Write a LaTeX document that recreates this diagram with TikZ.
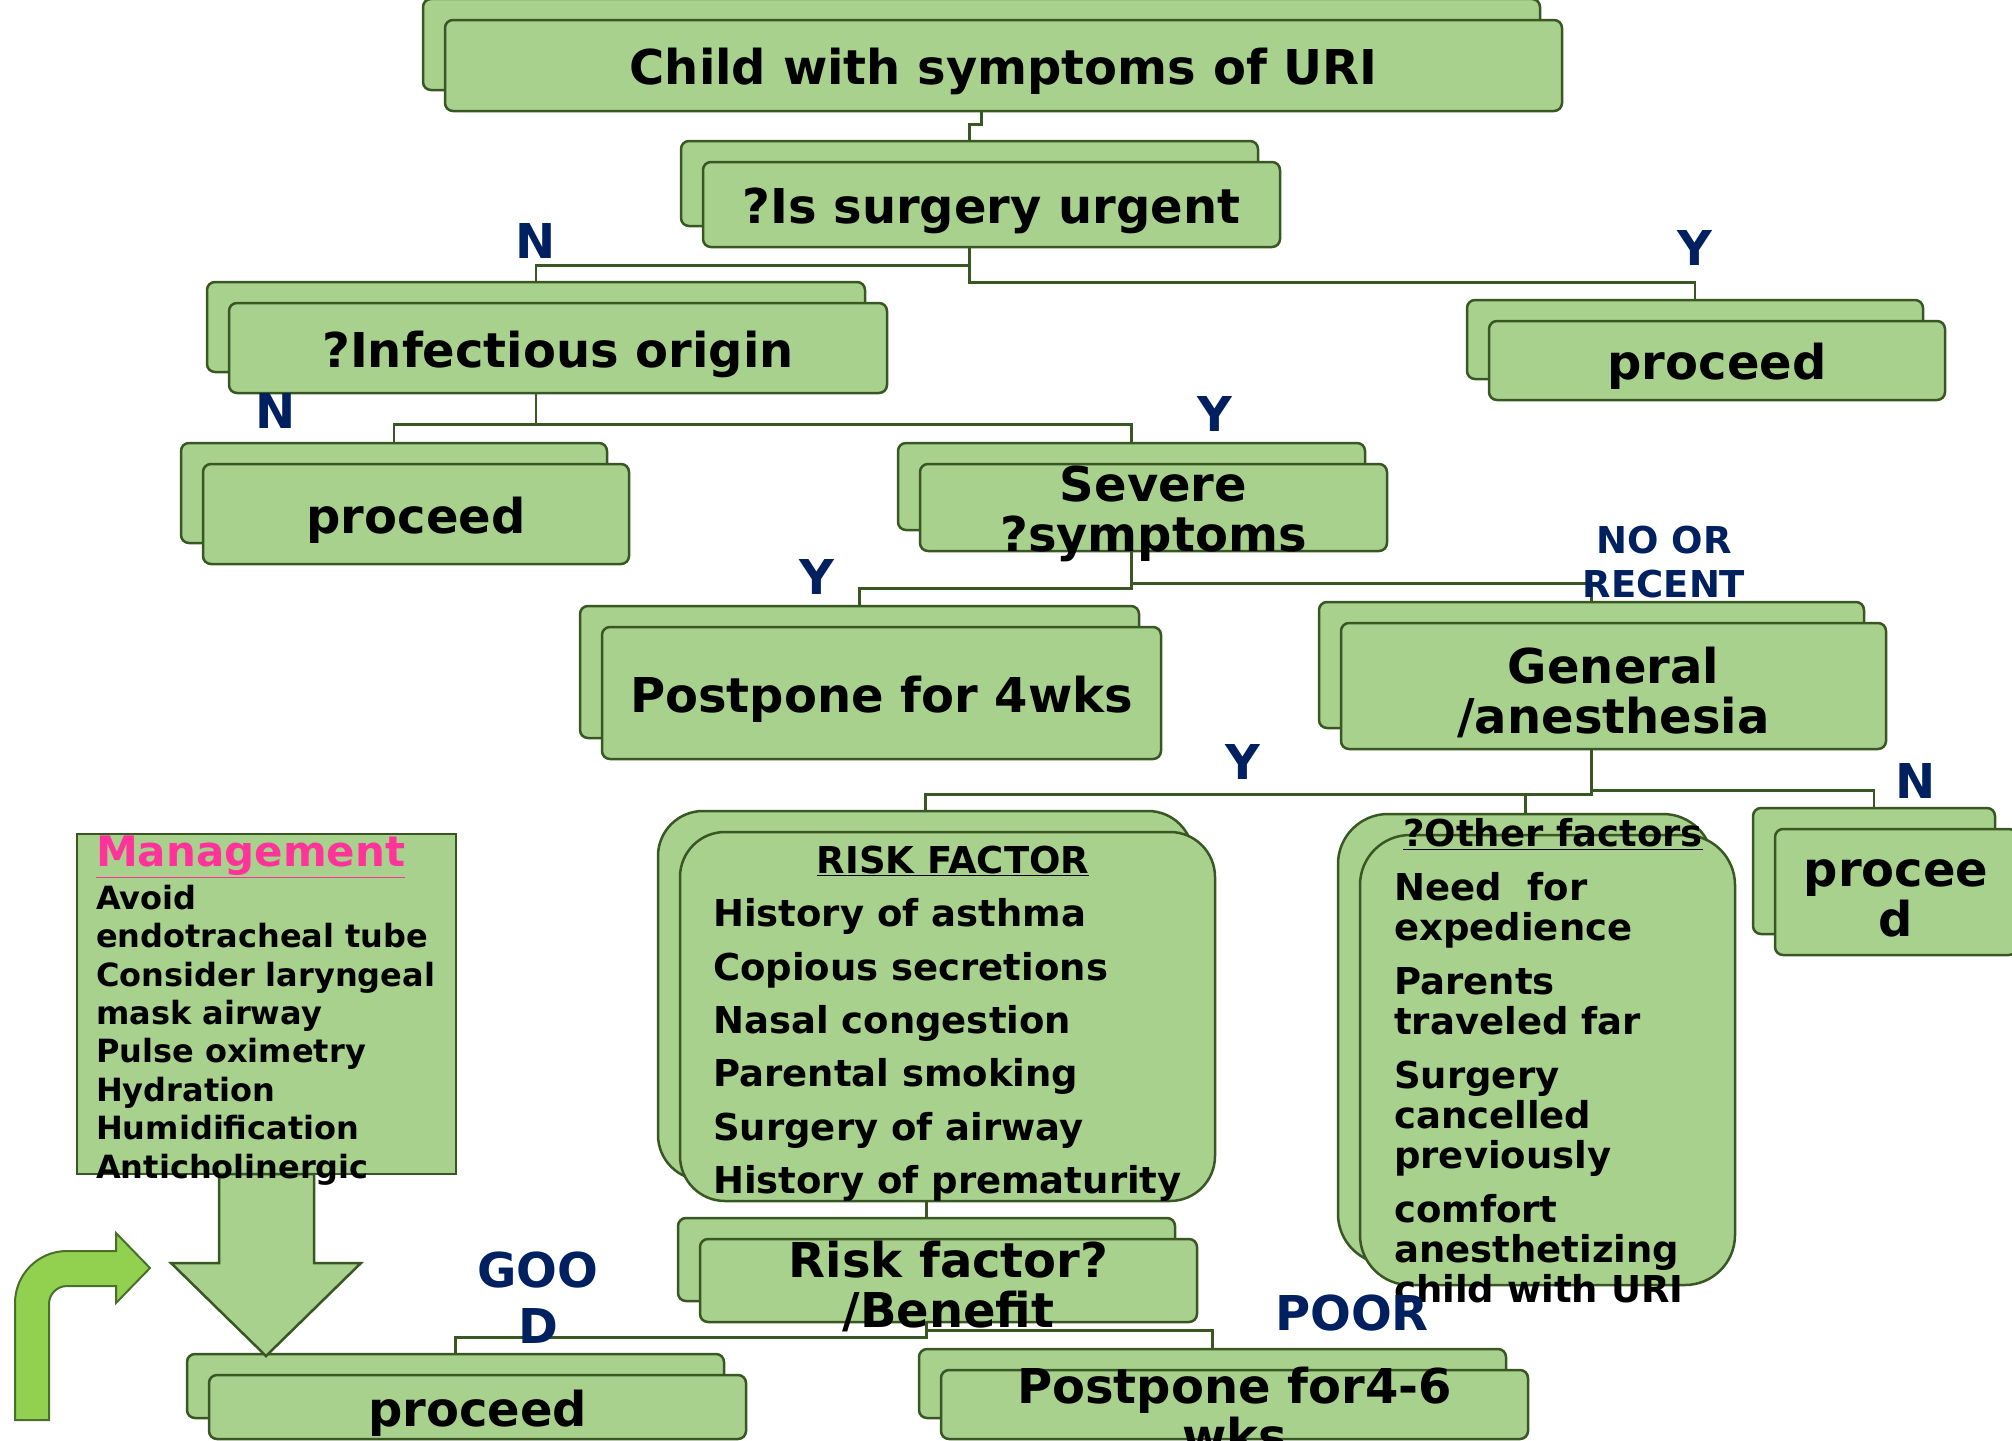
\documentclass[tikz,border=0pt]{standalone}
\usepackage{fontspec}
\setmainfont{DejaVu Sans}
\usepackage{tikz}
\usetikzlibrary{backgrounds}
\definecolor{boxfill}{RGB}{169,209,142}
\definecolor{boxline}{RGB}{56,87,35}
\definecolor{navy}{RGB}{0,32,96}
\definecolor{hotpink}{RGB}{255,51,153}
\definecolor{brightgreen}{RGB}{146,208,80}
\newcommand{\twinbox}[7][]{%
  \node[box, minimum width=#5pt, minimum height=#6pt, #1] (#2) at (#3,#4) {};
  \node[box, minimum width=#5pt, minimum height=#6pt, #1] (#2-top) at ([shift={(22,21)}]#2.center) {};
  \node[boxtext] (#2-text) at (#2-top) {#7};
}

\begin{document}
\begin{tikzpicture}[x=1pt, y=-1pt,
  box/.style={draw=boxline, fill=boxfill, line width=2.5pt, rounded corners=8pt, inner sep=0pt},
  boxtext/.style={font=\fontsize{48}{50}\selectfont\bfseries, align=center, inner sep=0pt, yshift=-6pt},
  answer/.style={text=navy, font=\fontsize{48}{56}\selectfont\bfseries, align=center, inner sep=0pt},
  smallanswer/.style={text=navy, font=\fontsize{37}{44}\selectfont\bfseries, align=center, inner sep=0pt},
  listtext/.style={font=\fontsize{37}{40}\selectfont\bfseries, align=left, inner sep=0pt},
  link/.style={draw=boxline, line width=2.5pt}]
\useasboundingbox (0,0) rectangle (2012,1440);
% decision boxes
\twinbox{uri}{981.5}{44.5}{1117}{91}{Child with symptoms of URI}
\twinbox{urgent}{969.5}{183.5}{577}{85}{?Is surgery urgent}
\twinbox{infect}{536}{327}{658}{90}{?Infectious origin}
\twinbox{proceedA}{1695}{339.5}{456}{79}{proceed}
\twinbox{proceedB}{394}{493}{426}{100}{proceed}
\twinbox{severe}{1131.5}{486.5}{467}{87}{Severe\\?symptoms}
\twinbox{postpone}{859.5}{672}{559}{132}{Postpone for 4wks}
\twinbox{general}{1591.5}{665}{545}{126}{General\\/anesthesia}
\twinbox[rounded corners=45pt]{risk}{925.5}{995.5}{535}{369}{}
\twinbox[rounded corners=50pt]{other}{1525.5}{1039}{375}{450}{}
\twinbox{proceedC}{1874}{871}{242}{126}{procee\\d}
\twinbox{benefit}{926.5}{1259.5}{497}{83}{Risk factor?\\/Benefit}
\twinbox{proceedD}{455.5}{1386}{537}{64}{proceed}
\twinbox{postponeB}{1212.5}{1383.5}{587}{69}{Postpone for4-6\\wks}
% lists inside the rounded boxes
\node[listtext] (riskhead) at (953,861) {\underline{RISK FACTOR}};
\node[listtext, anchor=west, font=\fontsize{37}{53.3}\selectfont\bfseries] (risklist) at (713,1050)
  {History of asthma\\Copious secretions\\Nasal congestion\\Parental smoking\\Surgery of airway\\History of prematurity};
\node[listtext] (otherhead) at (1553,834) {\underline{?Other factors}};
\node[listtext, anchor=west] (otherlist) at (1394,1088)
  {Need\ \ for\\expedience\\[14pt]Parents\\traveled far\\[14pt]Surgery\\cancelled\\previously\\[14pt]comfort\\anesthetizing\\child with URI};
% connectors
\begin{scope}[on background layer]
\draw[link] (uri.south) -- ++(0,33) -| (urgent.north);
\draw[link] (urgent.south) -- ++(0,38) -| (infect.north);
\draw[link] (urgent.south) -- ++(0,55) -| (proceedA.north);
\draw[link] (infect.south) -- ++(0,51) -| (proceedB.north);
\draw[link] (infect.south) -- ++(0,51) -| (severe.north);
\draw[link] (severe.south) -- ++(0,57) -| (postpone.north);
\draw[link] (severe.south) -- ++(0,52) -| (general.north);
\draw[link] (general.south) -- ++(0,65) -| (risk.north);
\draw[link] (general.south) -- ++(0,65) -| (other.north);
\draw[link] (general.south) -- ++(0,61) -| (proceedC.north);
\draw[link] (risk.south) -- ++(0,19) -| (benefit.north);
\draw[link] (benefit.south) -- ++(0,35) -| (proceedD.north);
\draw[link] (benefit.south) -- ++(0,28) -| (postponeB.north);
\end{scope}
% branch answers
\node[answer] (ansA) at (536,241) {N};
\node[answer] (ansB) at (1695,248) {Y};
\node[answer] (ansC) at (276,411) {N};
\node[answer] (ansD) at (1215,414) {Y};
\node[answer] (ansE) at (817,577) {Y};
\node[smallanswer] (ansF) at (1664,562) {NO OR\\RECENT};
\node[answer] (ansG) at (1243,762) {Y};
\node[answer] (ansH) at (1916,781) {N};
\node[answer] (ansI) at (538,1298) {GOO\\D};
\node[answer] (ansJ) at (1352,1313) {POOR};
% management panel
\node[draw=boxline, fill=boxfill, line width=2.5pt, minimum width=379pt, minimum height=340pt] (mgmt) at (266.5,1004) {};
\filldraw[draw=boxline, fill=boxfill, line width=2.5pt]
  (219,1174) -- (219,1263) -- (171,1263) -- (266,1356) -- (361,1263) -- (314,1263) -- (314,1174) -- cycle;
\node[anchor=west, inner sep=0pt, text=hotpink, font=\fontsize{42}{44}\selectfont\bfseries] (mgmthead) at (96,857) {\underline{Management}};
\node[anchor=west, inner sep=0pt, align=left, font=\fontsize{32}{38.4}\selectfont\bfseries] (mgmtlist) at (96,1035)
  {Avoid\\endotracheal tube\\Consider laryngeal\\mask airway\\Pulse oximetry\\Hydration\\Humidification\\Anticholinergic};
% bent arrow
\filldraw[draw=boxline!80!brightgreen, fill=brightgreen, line width=2pt]
  (15,1420) -- (15,1303) arc (180:270:52) -- (116,1251) -- (116,1233) -- (150,1268)
  -- (116,1303) -- (116,1286) -- (67,1286) arc (270:180:18) -- (49,1420) -- cycle;
\end{tikzpicture}
\end{document}
